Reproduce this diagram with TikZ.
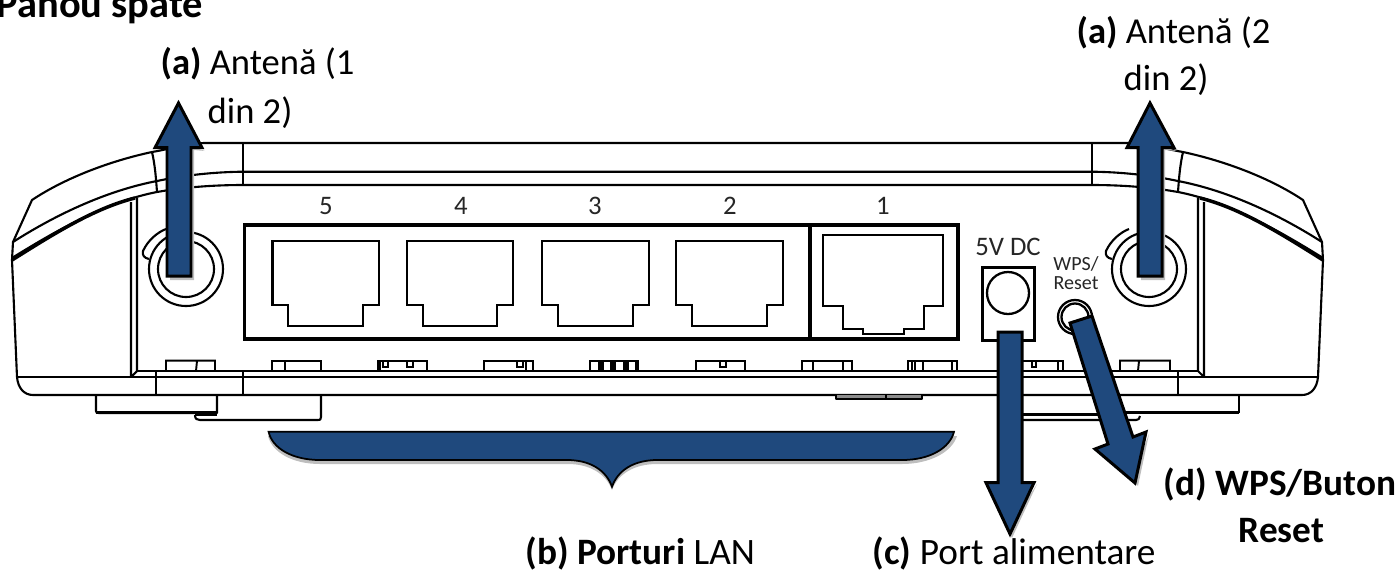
\documentclass[tikz,border=0pt]{standalone}
\usepackage{fontspec}
\setmainfont{Carlito}
\definecolor{arrowblue}{HTML}{1F497D}
\definecolor{shadowgrey}{HTML}{BEBEBE}
\definecolor{printgrey}{HTML}{262626}
\tikzset{
  x=0.01cm,y=-0.01cm,
  body/.style={line width=0.6pt,line join=round,black},
  thickbox/.style={line width=1.05pt,black},
  portline/.style={line width=0.65pt,black,line join=miter},
  tabline/.style={line width=0.55pt,black},
  blockarrow/.style={fill=arrowblue,draw=black,line width=0.85pt,line join=miter},
  arrowshade/.style={fill=shadowgrey,draw=none},
  lab/.style={font=\fontsize{10.4pt}{12pt}\selectfont,inner sep=0pt,anchor=base west,text=black},
  portno/.style={font=\fontsize{7.6pt}{8pt}\selectfont,inner sep=0pt,text=printgrey},
  tinyno/.style={font=\fontsize{5.7pt}{5.4pt}\selectfont,inner sep=0pt,text=printgrey,align=center},
}
\newcommand{\portshape}[4]{% left, right, notch left, notch right
  \draw[portline] (#1,240.7) -- (#2,240.7) -- (#2,305) -- (#4,305) -- (#4,326) -- (#3,326) -- (#3,305) -- (#1,305) -- cycle;}
\begin{document}
\begin{tikzpicture}
\clip (0,0) rectangle (1399,569);
\useasboundingbox (0,0) rectangle (1399,569);
% --- body outline
\draw[body] (243,143) -- (205,143) .. controls (190,143) and (170,149) .. (152,152)
  .. controls (110,161) and (65,178) .. (32,200) -- (13,242) -- (12,260) -- (17,377)
  .. controls (18,388) and (24,395) .. (33,395) -- (1302,395)
  .. controls (1311,395) and (1317,388) .. (1318,377) -- (1323,260) -- (1322,242) -- (1303,200)
  .. controls (1270,178) and (1225,161) .. (1183,152)
  .. controls (1165,149) and (1145,143) .. (1130,143) -- cycle;
\draw[body] (13,242) .. controls (60,212) and (110,190) .. (157,181) .. controls (185,175) and (215,172) .. (243,171.7) -- (1092,171.7)
  .. controls (1120,172) and (1150,175) .. (1178,181) .. controls (1225,190) and (1275,212) .. (1322,242);
\draw[body] (12,258) .. controls (60,228) and (110,201) .. (157,192) .. controls (185,187) and (215,185) .. (243,185) -- (1092,185)
  .. controls (1120,185) and (1150,187) .. (1178,192) .. controls (1225,201) and (1275,228) .. (1323,258);
\draw[line width=1pt,black] (12,260) .. controls (55,233) and (95,208) .. (135,198);
\draw[line width=1pt,black] (1323,260) .. controls (1280,233) and (1240,208) .. (1200,198);
\draw[body] (152,152) .. controls (155,165) and (156,178) .. (157,192) (1183,152) .. controls (1180,165) and (1179,178) .. (1178,192);
\draw[body] (243,143) -- (243,185) (1092,143) -- (1092,185);
% inner panel
\draw[body] (131,202) -- (131,377) (137,198) -- (137,371) (131,377) -- (137,371);
\draw[body] (1204,202) -- (1204,377) (1198,198) -- (1198,371) (1204,377) -- (1198,371);
\draw[body] (137,371) -- (1198,371) (17,377) -- (1318,377);
\draw[body] (156,371) -- (156,395) (243,371) -- (243,395) (1092,371) -- (1092,395) (1178,371) -- (1178,395);
% feet
\draw[body] (96,395) -- (96,411) .. controls (96,413) and (97,413) .. (99,413) -- (217,413) -- (217,395);
\draw[body] (321,395) -- (321,417) .. controls (321,420) and (320,420) .. (318,420) -- (200,420) .. controls (197,420) and (195,419) .. (195,415);
\draw[line width=0.9pt,black] (96,412.5) -- (217,412.5) (195,414.5) -- (217,414.5);
\draw[body] (1239,395) -- (1239,412.5);
\draw[line width=0.9pt,black] (1239,412.5) -- (1110,412.5);
\draw[line width=0.7pt,black] (1110,414.5) -- (1014,414.5);
\draw[body] (1140,416) .. controls (1140,419) and (1138,420) .. (1136,420) -- (1014,420);
\draw[body,fill=black!45] (836,395) -- (836,399) -- (922,399) -- (922,395) (886,395) -- (886,399);
% tabs
\draw[tabline] (166,371) -- (166,360.7) -- (215,360.7) -- (215,371) (197,361) -- (196,371);
\draw[tabline] (272,371) -- (272,360.7) -- (321,360.7) -- (321,371) (285,361) -- (285,371);
\draw[tabline] (378,371) -- (378,360.7) -- (427,360.7) -- (427,371) (380,361) -- (380,371) (383,361) -- (383,367) -- (388,367) -- (388,361) (407,361) -- (407,367) -- (413,367) -- (413,361);
\draw[tabline] (484,371) -- (484,360.7) -- (533,360.7) -- (533,371) (517,361) -- (517,367) -- (523,367) -- (523,361) (526,361) -- (526,371);
\draw[tabline] (590,371) -- (590,360.7) -- (638,360.7) -- (638,371);
\draw[line width=0.9pt] (600,361) -- (600,371) (602,361) -- (602,371) (612,361) -- (612,371) (614,361) -- (614,371) (625,361) -- (625,371) (627,361) -- (627,371) (637,361) -- (637,371);
\draw[tabline] (696,371) -- (696,360.7) -- (745,360.7) -- (745,371) (720,361) -- (720,367) -- (726,367) -- (726,361);
\draw[tabline] (802,371) -- (802,360.7) -- (852,360.7) -- (852,371) (813,361) -- (813,371) (843,361) -- (843,371);
\draw[tabline] (908,371) -- (908,360.7) -- (957,360.7) -- (957,371) (912,361) -- (912,371) (915,361) -- (915,371) (923,361) -- (923,371) (952,361) -- (952,371);
\draw[tabline] (1014,371) -- (1014,360.7) -- (1063,360.7) -- (1063,371) (1032,361) -- (1032,367) -- (1036,367) -- (1036,361) (1058,361) -- (1058,371);
\draw[tabline] (1120,371) -- (1120,360.7) -- (1170,360.7) -- (1170,371) (1139,361) -- (1138,371);
% port panel
\draw[thickbox] (244.5,225) rectangle (958,339);
\draw[thickbox] (810,225) -- (810,339);
\portshape{272.5}{379}{288}{363}
\portshape{407}{513}{423}{497}
\portshape{541.7}{649}{557.7}{632.7}
\portshape{676}{783}{692}{767}
\draw[portline] (823,235) -- (943,235) -- (943,305.7) -- (924,305.7) -- (924,329) -- (904,329) -- (904,334) -- (863,334) -- (863,329) -- (843,329) -- (843,305.7) -- (823,305.7) -- cycle;
\node[portno] (n5) at (326,206) {5};
\node[portno] (n4) at (461,206) {4};
\node[portno] (n3) at (595,206) {3};
\node[portno] (n2) at (730,206) {2};
\node[portno] (n1) at (883,206) {1};
% power jack
\draw[line width=0.85pt] (982,267) rectangle (1034,340);
\draw[portline] (1008,293) circle [radius=21];
\node[portno] (dc) at (1008,247) {5V DC};
\node[tinyno] (wps) at (1076,273.5) {WPS/\\Reset};
\draw[portline] (1075,317) circle [radius=17];
\draw[portline] (1075,317) circle [radius=13.5];
% antenna sockets
\foreach \c in {186,1149}{
  \draw[body] (\c,269) circle [radius=37];
  \draw[body] (\c,269) circle [radius=28];
  \draw[body] (\c-20,229) .. controls (\c-28,232) and (\c-38,240) .. (\c-43,251) .. controls (\c-44,255) and (\c-42,258) .. (\c-37,259);
}
% block arrows: shadows
\fill[arrowshade] (170,150) -- (170,280) -- (194,280) -- (194,150) -- (205,151) -- (190,146) -- cycle;
\fill[arrowshade] (1141,150) -- (1141,280) -- (1165,280) -- (1165,150) -- (1177,151) -- (1160,146) -- cycle;
\fill[arrowshade] (1037,484) -- (1012,538) -- (1008,530) -- cycle;
\fill[arrowshade] (1149,434) -- (1138,486) -- (1132,478) -- cycle;
\fill[arrowshade] (268,436) .. controls (272,452) and (292,464) .. (320,464) -- (568,464)
  .. controls (590,464) and (606,474) .. (612,490) .. controls (618,474) and (634,464) .. (657,464) -- (902,464)
  .. controls (930,464) and (952,452) .. (957,436) -- cycle;
% block arrows
\path[blockarrow] (167,276) -- (167,147.7) -- (155,147.7) -- (178.5,103) -- (202,147.7) -- (191,147.7) -- (191,276) -- cycle;
\path[blockarrow] (1138,276) -- (1138,147.7) -- (1127,147.7) -- (1150,103) -- (1174,147.7) -- (1162,147.7) -- (1162,276) -- cycle;
\path[blockarrow] (998,332) -- (1022,332) -- (1022,482.7) -- (1034,482.7) -- (1010,534) -- (986,482.7) -- (998,482.7) -- cycle;
\path[blockarrow] (1070,323) -- (1092,316) -- (1133,437) -- (1146,432) -- (1135,483) -- (1095,449) -- (1108,444) -- cycle;
\path[blockarrow,line width=0.5pt] (268.6,431.7) .. controls (272,448) and (292,460) .. (320,460) -- (567,460)
  .. controls (590,460) and (606,470) .. (612,486.7) .. controls (618,470) and (634,460) .. (657.5,460) -- (902,460)
  .. controls (930,460) and (950,448) .. (954,431.7) -- cycle;
% labels
\node[lab,font=\fontsize{11.5pt}{13pt}\selectfont] (title) at (-4,17.5) {\textbf{Panou spate}};
\node[lab] (a1a) at (160,74) {\textbf{(a)} Antenă (1};
\node[lab] (a1b) at (207,123) {din 2)};
\node[lab] (a2a) at (1076,43) {\textbf{(a)} Antenă (2};
\node[lab] (a2b) at (1123,90) {din 2)};
\node[lab,font=\fontsize{10.6pt}{12pt}\selectfont] (b) at (525,564) {\textbf{(b) Porturi} LAN};
\node[lab,font=\fontsize{10.6pt}{12pt}\selectfont] (c) at (872,564) {\textbf{(c)} Port alimentare};
\node[lab,font=\fontsize{10.6pt}{12pt}\selectfont] (d1) at (1163,495) {\textbf{(d) WPS/Buton}};
\node[lab,font=\fontsize{10.6pt}{12pt}\selectfont] (d2) at (1238,542) {\textbf{Reset}};
\end{tikzpicture}
\end{document}
